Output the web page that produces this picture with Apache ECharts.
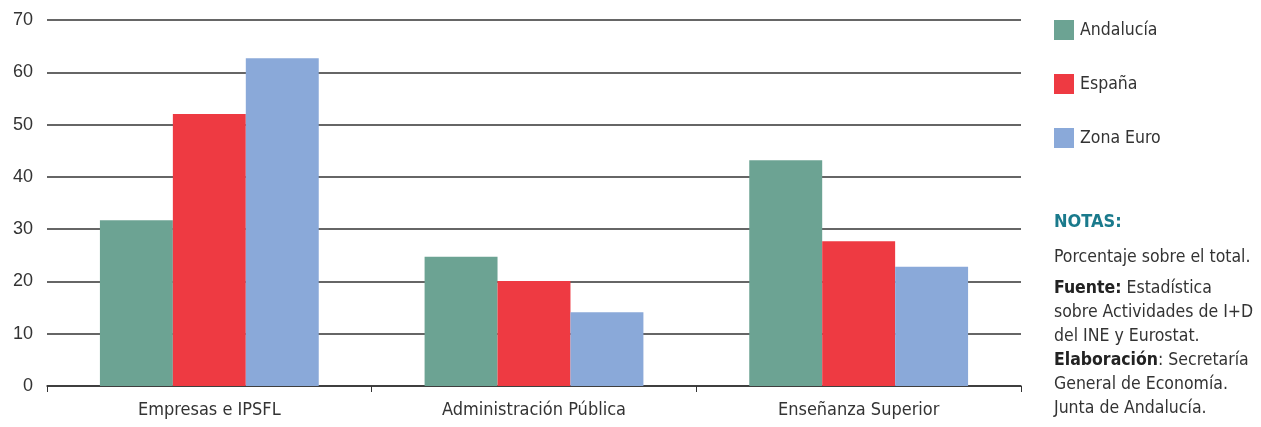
<!DOCTYPE html>
<html><head><meta charset="utf-8">
<script src="https://cdn.jsdelivr.net/npm/echarts@6/dist/echarts.min.js"></script>
<style>html,body{margin:0;padding:0;background:#fff}#c{width:1261px;height:427px}</style>
</head><body><div id="c"></div>
<script>
const categories = ['Empresas e IPSFL', 'Administración Pública', 'Enseñanza Superior'];
const andalucia = [31.7, 24.7, 43.2];
const espana = [52.0, 20.1, 27.7];
const zonaEuro = [62.7, 14.1, 22.8];
const seriesNames = ['Andalucía', 'España', 'Zona Euro'];
const notes = ['Porcentaje sobre el total.'];

const FONT = '"DejaVu Sans Condensed", "Liberation Sans", sans-serif';
const NUMFONT = '"Liberation Sans", Arial, sans-serif';
const chart = echarts.init(document.getElementById('c'));
const colors = ['#6ca393', '#ee3a42', '#8aa9d9'];
chart.setOption({
  animation: false,
  textStyle: { fontFamily: FONT },
  grid: { left: 47, right: 240, top: 20, bottom: 41 },
  legend: {
    orient: 'vertical', left: 1054, top: 20, padding: 0,
    itemWidth: 20, itemHeight: 20, itemGap: 34,
    icon: 'rect',
    textStyle: { fontFamily: FONT, fontSize: 17.5, color: '#333', padding: [0, 0, 0, 1] },
    data: seriesNames
  },
  xAxis: {
    type: 'category', data: categories,
    axisLine: { lineStyle: { color: '#333', width: 1.5 } },
    axisTick: { show: true, length: 6, lineStyle: { color: '#333' } },
    axisLabel: { fontFamily: FONT, fontSize: 18, color: '#333', margin: 15 }
  },
  yAxis: {
    type: 'value', min: 0, max: 70, interval: 10,
    axisLine: { show: false }, axisTick: { show: false },
    splitLine: { lineStyle: { color: '#333', width: 1.5 } },
    axisLabel: { fontFamily: NUMFONT, fontSize: 18, color: '#333', margin: 14 }
  },
  series: [
    { name: seriesNames[0], type: 'bar', data: andalucia, barGap: '0%', barCategoryGap: '32.6%', itemStyle: { color: colors[0] } },
    { name: seriesNames[1], type: 'bar', data: espana, barGap: '0%', barCategoryGap: '32.6%', itemStyle: { color: colors[1] } },
    { name: seriesNames[2], type: 'bar', data: zonaEuro, barGap: '0%', barCategoryGap: '32.6%', itemStyle: { color: colors[2] } }
  ],
  graphic: [
    { type: 'text', left: 1054, top: 213, style: { text: 'NOTAS:', fontFamily: FONT, fontSize: 18, fill: '#1a7a8c', fontWeight: 'bold' } },
    { type: 'text', left: 1054, top: 248, style: { text: notes[0], fontFamily: FONT, fontSize: 17.5, fill: '#333' } },
    { type: 'text', left: 1054, top: 276, style: {
        text: '{b|Fuente:} Estadística\nsobre Actividades de I+D\ndel INE y Eurostat.\n{b|Elaboración}: Secretaría\nGeneral de Economía.\nJunta de Andalucía.',
        fontFamily: FONT, fontSize: 17.5, fill: '#333', lineHeight: 24,
        rich: { b: { fontFamily: FONT, fontSize: 17.5, fontWeight: 'bold', fill: '#222', lineHeight: 24 } }
      } }
  ]
});
</script></body></html>
